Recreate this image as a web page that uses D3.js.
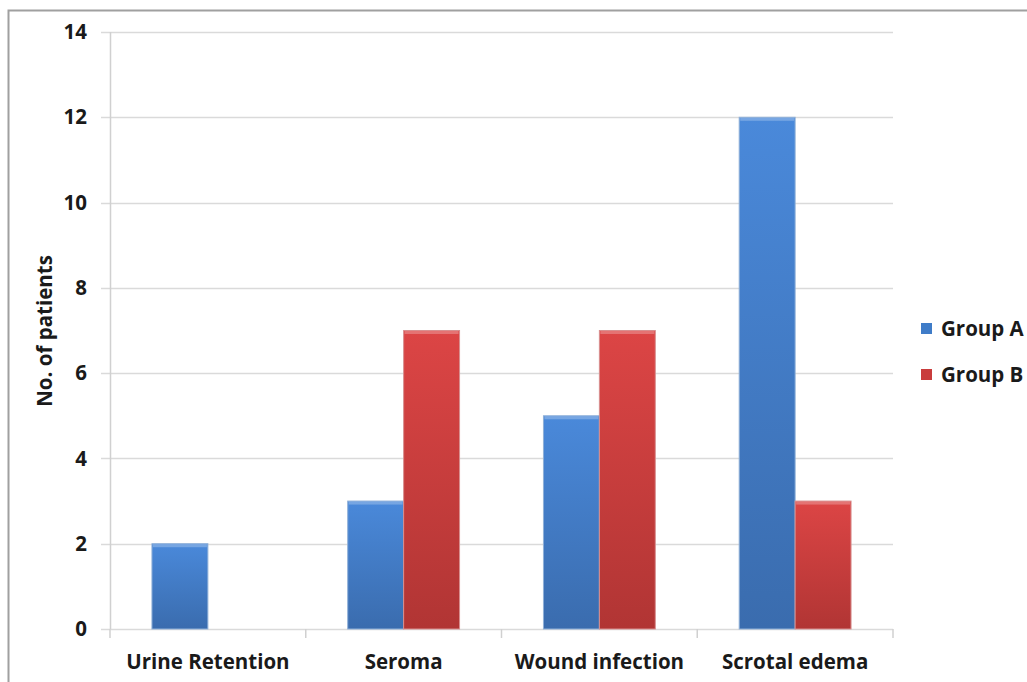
<!DOCTYPE html>
<html><head><meta charset="utf-8">
<script src="https://cdn.jsdelivr.net/npm/d3@7"></script>
<style>body{margin:0;background:#fff;}svg{display:block;font-family:"Open Sans","Liberation Sans",sans-serif;}</style>
</head><body>
<svg id="c" width="1027" height="682"></svg>
<script>
const categories = ["Urine Retention","Seroma","Wound infection","Scrotal edema"];
const seriesNames = ["Group A","Group B"];
const groupA = [2,3,5,12];
const groupB = [0,7,7,3];
const yTicks = [0,2,4,6,8,10,12,14];
const yLabel = "No. of patients";

const svg = d3.select("#c");
const m = {left:110, right:893, top:32, bottom:629};
const defs = svg.append("defs");
function grad(id, c1, c2){
  const g = defs.append("linearGradient").attr("id",id).attr("x1",0).attr("x2",0).attr("y1",0).attr("y2",1);
  g.append("stop").attr("offset","0%").attr("stop-color",c1);
  g.append("stop").attr("offset","100%").attr("stop-color",c2);
}
grad("gA","#4a89da","#3a6cae");
grad("gB","#dc4545","#b13534");
const colors = {"Group A":"url(#gA)","Group B":"url(#gB)"};
const edge = {"Group A":"#8fb0d8","Group B":"#d88f8f"};
const legendCol = {"Group A":"#3f7cc8","Group B":"#c93c3c"};
const fs = 20.5;

// outer border
svg.append("path").attr("d","M8.5,682 V10.5 H1027").attr("fill","none").attr("stroke","#a0a0a0").attr("stroke-width",2);

const y = d3.scaleLinear().domain([0,14]).range([m.bottom,m.top]);
const x0 = d3.scaleBand().domain(categories).range([m.left,m.right]).padding(0);
const bw = x0.bandwidth();
const x1 = d3.scaleBand().domain(seriesNames).range([bw*0.2143, bw*(1-0.2143)]).padding(0);

// grid
svg.append("g").selectAll("line").data(yTicks).join("line")
  .attr("x1",m.left-9).attr("x2",m.right).attr("y1",d=>Math.round(y(d))+0.5).attr("y2",d=>Math.round(y(d))+0.5)
  .attr("stroke","#dadada").attr("stroke-width",1.5);
// y axis line
svg.append("line").attr("x1",m.left+0.5).attr("x2",m.left+0.5).attr("y1",m.top).attr("y2",m.bottom).attr("stroke","#d0d0d0").attr("stroke-width",1.5);
// x ticks
svg.append("g").selectAll("line").data(d3.range(categories.length+1)).join("line")
  .attr("x1",i=>m.left+i*bw).attr("x2",i=>m.left+i*bw).attr("y1",m.bottom).attr("y2",m.bottom+9)
  .attr("stroke","#d0d0d0").attr("stroke-width",1.5);

// y tick labels
svg.append("g").selectAll("text").data(yTicks).join("text")
  .attr("x",87).attr("y",d=>y(d)).attr("dy","0.35em").attr("text-anchor","end")
  .attr("font-size",fs).attr("font-weight","bold").attr("fill","#1a1a1a").text(d=>d);

// x labels
svg.append("g").selectAll("text").data(categories).join("text")
  .attr("x",d=>x0(d)+bw/2).attr("y",669).attr("text-anchor","middle")
  .attr("font-size",fs).attr("font-weight","bold").attr("fill","#1a1a1a").text(d=>d);

// y label
svg.append("text").attr("transform","translate(52,331) rotate(-90)").attr("text-anchor","middle")
  .attr("font-size",fs).attr("font-weight","bold").attr("fill","#1a1a1a").text(yLabel);

// bars
const data = [];
categories.forEach((c,i)=>{
  data.push({c, s:"Group A", v:groupA[i]});
  data.push({c, s:"Group B", v:groupB[i]});
});
const bars = svg.append("g").selectAll("g").data(data.filter(d=>d.v>0)).join("g");
bars.append("rect")
  .attr("x",d=>x0(d.c)+x1(d.s)).attr("y",d=>y(d.v)).attr("width",x1.bandwidth()).attr("height",d=>y(0)-y(d.v))
  .attr("fill",d=>colors[d.s]).attr("stroke",d=>edge[d.s]).attr("stroke-width",1);
bars.append("rect")
  .attr("x",d=>x0(d.c)+x1(d.s)+1).attr("y",d=>y(d.v)+0.5).attr("width",x1.bandwidth()-2).attr("height",3)
  .attr("fill","#ffffff").attr("opacity",0.25);

// legend
const lg = svg.append("g").selectAll("g").data(seriesNames).join("g")
  .attr("transform",(d,i)=>`translate(921,${323+i*46})`);
lg.append("rect").attr("width",11).attr("height",11).attr("fill",d=>legendCol[d]);
lg.append("text").attr("x",20).attr("y",6).attr("dy","0.35em").attr("font-size",fs).attr("font-weight","bold").attr("fill","#1a1a1a").text(d=>d);
</script>
</body></html>
